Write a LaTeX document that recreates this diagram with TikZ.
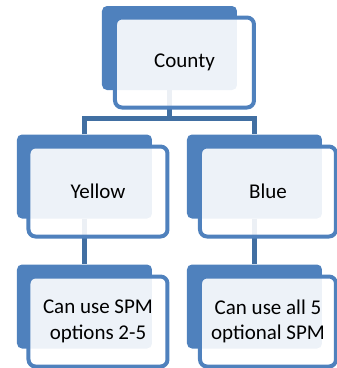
\documentclass[tikz,border=0pt]{standalone}
\usepackage{fontspec}
\setmainfont{Carlito}
\usetikzlibrary{positioning}
\definecolor{boxblue}{RGB}{79,129,189}
\definecolor{linkblue}{RGB}{65,111,162}

\begin{document}
\begin{tikzpicture}[x=1pt,y=-1pt]
			\tikzstyle{Back}	= [rectangle, rounded corners=5pt, fill=boxblue, minimum width=135pt, minimum height=84pt, inner sep=0pt]
			\tikzstyle{Front}	= [rectangle, rounded corners=7pt, draw=boxblue, line width=4pt, fill=white, fill opacity=0.9, text opacity=1, minimum width=139pt, minimum height=90pt, inner sep=0pt, align=center, font=\fontsize{21}{25.5}\selectfont]
			\tikzstyle{Narrow}	= [minimum width=136pt]
			\tikzstyle{Link}	= [linkblue, line width=5pt]

			\useasboundingbox (0,0) rectangle (337,368);

			\foreach \n/\x/\y in {county/169.5/48, yellow/84.5/176.5, blue/254.5/176.5, yellowopt/84.5/306.5, blueopt/254.5/306.5}
				\node (\n b) at (\x, \y) [Back] {};

			\coordinate (bar) at (169.5, 118);
			\draw [Link] (countyb.south) -- (bar);
			\draw [Link] (yellowb.north) |- (bar) -| (blueb.north);
			\foreach \a/\b in {yellowb/yellowoptb, blueb/blueoptb}
				\draw [Link] (\a.south) -- (\b.north);

			\node (county) at (184.5, 62.5) [Front] {County};
			\node (yellow) at (98, 191.5) [Front] {Yellow};
			\node (blue) at (268, 191.5) [Front][Narrow] {Blue};
			\node (yellowopt) at (98, 321.5) [Front] {Can use SPM\\options 2-5};
			\node (blueopt) at (268, 321.5) [Front][Narrow] {Can use all 5\\optional SPM};
		\end{tikzpicture}
\end{document}
